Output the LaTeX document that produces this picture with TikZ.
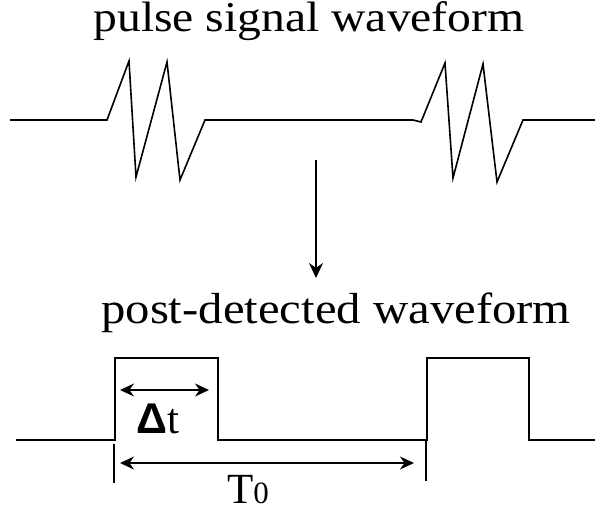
\documentclass[tikz,border=0pt]{standalone}
\usepackage{fontspec}
\setmainfont{Liberation Serif}
\newfontfamily\titlefont[FakeStretch=1.12]{Liberation Serif}
\newfontfamily\deltafont{Liberation Sans}
\usetikzlibrary{arrows.meta}

\begin{document}
\begin{tikzpicture}[x=1pt, y=-1pt]
\useasboundingbox (0,0) rectangle (595,516);
% titles
\node (pulsetitle) [anchor=base, inner sep=0pt, text height=29pt, font=\titlefont\fontsize{42.5}{46}\selectfont] at (309,32) {pulse signal waveform};
\node (posttitle) [anchor=base, inner sep=0pt, font=\titlefont\fontsize{43.5}{46}\selectfont] at (336,323) {post-detected waveform};
% pulse signal
\draw[line width=1.6pt] (10,120) -- (107,120) -- (129,61) -- (136,177) -- (167,62) -- (180,180) -- (205,120) -- (413,120) -- (421,122) -- (445,63) -- (453,178) -- (483,64) -- (497,182) -- (523,120) -- (595,120);
\coordinate (from) at (316,160);
\coordinate (to) at (316,278);
\draw[arrows=-{Stealth[length=15pt, width=14pt]}, line width=1.6pt] (from) -- (to);
% post-detected
\draw[line width=1.6pt] (16,440) -- (115,440) -- (115,358) -- (218,358) -- (218,440) -- (427,440) -- (427,358) -- (529,358) -- (529,440) -- (595,440);
\coordinate (dtleft) at (120,390);
\coordinate (dtright) at (209,390);
\draw[arrows={Stealth[length=14pt, width=13pt]}-{Stealth[length=14pt, width=13pt]}, line width=1.6pt] (dtleft) -- (dtright);
\node (dtlabel) [anchor=base west, inner sep=0pt, text depth=0pt, font=\fontsize{43}{48}\selectfont] at (136,433) {{\deltafont\bfseries Δ}t};
\coordinate (tickl1) at (114,444);
\coordinate (tickl2) at (114,483);
\coordinate (tickr1) at (426,440);
\coordinate (tickr2) at (426,481);
\draw[line width=2.8pt] (tickl1) -- (tickl2);
\draw[line width=2.8pt] (tickr1) -- (tickr2);
\coordinate (tleft) at (120,463);
\coordinate (tright) at (414,463);
\draw[arrows={Stealth[length=14pt, width=13pt]}-{Stealth[length=14pt, width=13pt]}, line width=1.6pt] (tleft) -- (tright);
\node (tlabel) [anchor=base west, inner sep=0pt, text depth=0pt, font=\fontsize{43}{46}\selectfont] at (227,503) {T{\fontsize{31}{33}\selectfont 0}};
\end{tikzpicture}
\end{document}
